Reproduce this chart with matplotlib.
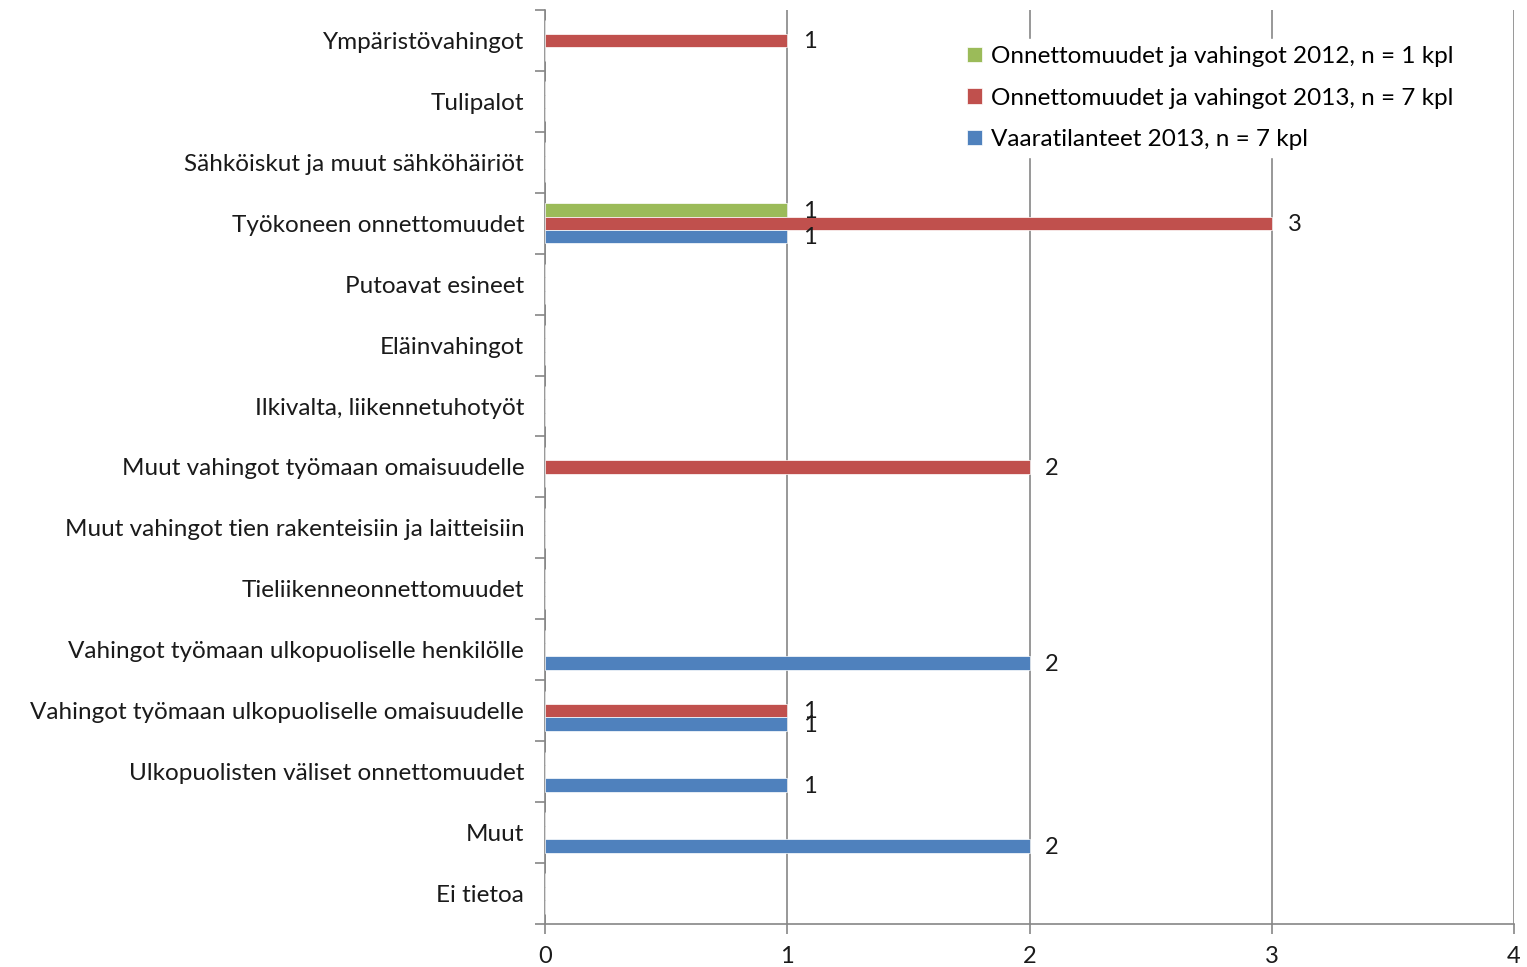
import numpy as np
import matplotlib.pyplot as plt

plt.rcParams['font.family'] = ['Lato', 'DejaVu Sans']

# Categories, top to bottom
categories = [
    'Ympäristövahingot',
    'Tulipalot',
    'Sähköiskut ja muut sähköhäiriöt',
    'Työkoneen onnettomuudet',
    'Putoavat esineet',
    'Eläinvahingot',
    'Ilkivalta, liikennetuhotyöt',
    'Muut vahingot työmaan omaisuudelle',
    'Muut vahingot tien rakenteisiin ja laitteisiin',
    'Tieliikenneonnettomuudet',
    'Vahingot työmaan ulkopuoliselle henkilölle',
    'Vahingot työmaan ulkopuoliselle omaisuudelle',
    'Ulkopuolisten väliset onnettomuudet',
    'Muut',
    'Ei tietoa',
]
onn_2012 = [0, 0, 0, 1, 0, 0, 0, 0, 0, 0, 0, 0, 0, 0, 0]
onn_2013 = [1, 0, 0, 3, 0, 0, 0, 2, 0, 0, 0, 1, 0, 0, 0]
vaara_2013 = [0, 0, 0, 1, 0, 0, 0, 0, 0, 0, 2, 1, 1, 2, 0]

series = [
    ('Onnettomuudet ja vahingot 2012, n = 1 kpl', onn_2012, '#9BBB59', -1),
    ('Onnettomuudet ja vahingot 2013, n = 7 kpl', onn_2013, '#C0504D', 0),
    ('Vaaratilanteet 2013, n = 7 kpl', vaara_2013, '#4F81BD', 1),
]

fig = plt.figure(figsize=(15.27, 9.67), dpi=100)
ax = fig.add_axes([0.3569, 0.0445, 0.6346, 0.9452])

y = np.arange(len(categories))
h = 0.22
for label, vals, color, off in series:
    vals = np.array(vals)
    bars = ax.barh(y + off * h, vals, height=h, color=color, label=label,
                   edgecolor='white', linewidth=0.5, zorder=3)
    for b, v in zip(bars, vals):
        if v > 0:
            ax.text(v + 0.065, b.get_y() + h / 2 + 0.02, str(v), va='center', ha='left',
                    fontsize=17, color='#1a1a1a', zorder=4)

ax.set_ylim(len(categories) - 0.5, -0.5)
ax.set_xlim(0, 4)
ax.set_xticks([0, 1, 2, 3, 4])
ax.set_yticks(y)
ax.set_yticklabels(categories, fontsize=17.5, color='#1a1a1a')
ax.set_yticks(np.arange(len(categories) + 1) - 0.5, minor=True)
ax.tick_params(axis='y', which='major', length=0, pad=15)
ax.tick_params(axis='y', which='minor', length=7, color='#868686', width=1.2)
ax.tick_params(axis='x', length=7, color='#868686', width=1.2, labelsize=17,
               labelcolor='#1a1a1a', pad=9)
ax.xaxis.grid(True, color='#868686', linewidth=1.2, zorder=0)

for s in ['top', 'right']:
    ax.spines[s].set_visible(False)
for s in ['left', 'bottom']:
    ax.spines[s].set_color('#868686')
    ax.spines[s].set_linewidth(1.2)

leg = ax.legend(loc='upper right', bbox_to_anchor=(0.958, 0.982), fontsize=17.5,
                frameon=True, facecolor='white', edgecolor='white', framealpha=1,
                handlelength=0.6, handleheight=0.6, handletextpad=0.4,
                labelspacing=0.85, borderpad=0.3)
leg.set_zorder(5)

fig.savefig('out.png', dpi=100)
